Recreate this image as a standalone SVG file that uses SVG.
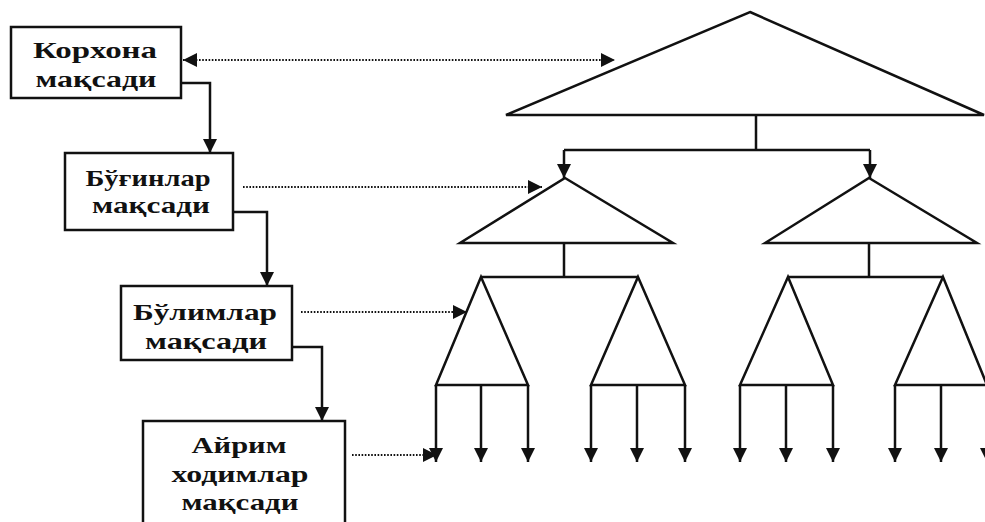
<svg xmlns="http://www.w3.org/2000/svg" width="985" height="522" viewBox="0 0 985 522">
<style>
.box{fill:#fff;stroke:#111;stroke-width:2.5}
.t{font-family:"Liberation Serif","Times New Roman",serif;font-weight:bold;font-size:24px;fill:#111;text-anchor:middle}
.ln{fill:none;stroke:#111;stroke-width:2.5}
.tri{fill:#fff;stroke:#111;stroke-width:2.5;stroke-linejoin:miter}
.dot{fill:none;stroke:#111;stroke-width:2;stroke-dasharray:1.6 1.6}
</style>
<defs>
<marker id="ah" viewBox="0 0 14 14" refX="14" refY="7" markerWidth="14" markerHeight="14" markerUnits="userSpaceOnUse" orient="auto-start-reverse">
<path d="M0,0 L14,7 L0,14 Z" fill="#111"/>
</marker>
</defs>
<rect width="985" height="522" fill="#fff"/>
<g id="connectors">
<path class="ln" d="M181,83 H210 V153" marker-end="url(#ah)"/>
<path class="ln" d="M233,212 H267 V286" marker-end="url(#ah)"/>
<path class="ln" d="M292,347 H322 V421" marker-end="url(#ah)"/>
<path class="dot" d="M183,60 H615" marker-start="url(#ah)" marker-end="url(#ah)"/>
<path class="dot" d="M243,187 H542" marker-end="url(#ah)"/>
<path class="dot" d="M301,312 H467" marker-end="url(#ah)"/>
<path class="dot" d="M352,455 H437" marker-end="url(#ah)"/>
<path class="ln" d="M756,115 V150 M564,150 H870"/>
<path class="ln" d="M564,150 V178" marker-end="url(#ah)"/>
<path class="ln" d="M870,150 V178" marker-end="url(#ah)"/>
<path class="ln" d="M564,243 V277 M481,277 H638 M869,243 V277 M788,277 H943"/>
<g id="leaves">
<path class="ln" d="M436,385 V462" marker-end="url(#ah)"/>
<path class="ln" d="M481,385 V462" marker-end="url(#ah)"/>
<path class="ln" d="M528,385 V462" marker-end="url(#ah)"/>
<path class="ln" d="M591,385 V462" marker-end="url(#ah)"/>
<path class="ln" d="M637,385 V462" marker-end="url(#ah)"/>
<path class="ln" d="M685,385 V462" marker-end="url(#ah)"/>
<path class="ln" d="M740,385 V462" marker-end="url(#ah)"/>
<path class="ln" d="M786,385 V462" marker-end="url(#ah)"/>
<path class="ln" d="M833,385 V462" marker-end="url(#ah)"/>
<path class="ln" d="M895,385 V462" marker-end="url(#ah)"/>
<path class="ln" d="M941,385 V462" marker-end="url(#ah)"/>
<path class="ln" d="M987,385 V462" marker-end="url(#ah)"/>
</g>
</g>
<g id="tri-top"><polygon class="tri" points="750,12 984,115 506,115"/></g>
<g id="tri-left"><polygon class="tri" points="565,178 673,243 460,243"/></g>
<g id="tri-right"><polygon class="tri" points="869,178 977,243 765,243"/></g>
<g id="trap-1"><polygon class="tri" points="481,277 528,385 436,385"/></g>
<g id="trap-2"><polygon class="tri" points="638,277 685,385 591,385"/></g>
<g id="trap-3"><polygon class="tri" points="788,277 833,385 740,385"/></g>
<g id="trap-4"><polygon class="tri" points="943,277 987,385 895,385"/></g>
<g id="box1">
<rect class="box" x="11" y="27" width="170" height="71"/>
<text class="t" x="95" y="58" textLength="124" lengthAdjust="spacingAndGlyphs">Корхона</text>
<text class="t" x="96" y="87" textLength="121" lengthAdjust="spacingAndGlyphs">мақсади</text>
</g>
<g id="box2">
<rect class="box" x="65" y="153" width="168" height="77"/>
<text class="t" x="148" y="186" textLength="125" lengthAdjust="spacingAndGlyphs">Бўғинлар</text>
<text class="t" x="151" y="213" textLength="118" lengthAdjust="spacingAndGlyphs">мақсади</text>
</g>
<g id="box3">
<rect class="box" x="121" y="286" width="171" height="74"/>
<text class="t" x="205" y="320" textLength="144" lengthAdjust="spacingAndGlyphs">Бўлимлар</text>
<text class="t" x="206" y="349" textLength="122" lengthAdjust="spacingAndGlyphs">мақсади</text>
</g>
<g id="box4">
<rect class="box" x="143" y="421" width="202" height="110"/>
<text class="t" x="239" y="453" textLength="95" lengthAdjust="spacingAndGlyphs">Айрим</text>
<text class="t" x="240" y="482" textLength="137" lengthAdjust="spacingAndGlyphs">ходимлар</text>
<text class="t" x="240" y="510" textLength="117" lengthAdjust="spacingAndGlyphs">мақсади</text>
</g>
</svg>
